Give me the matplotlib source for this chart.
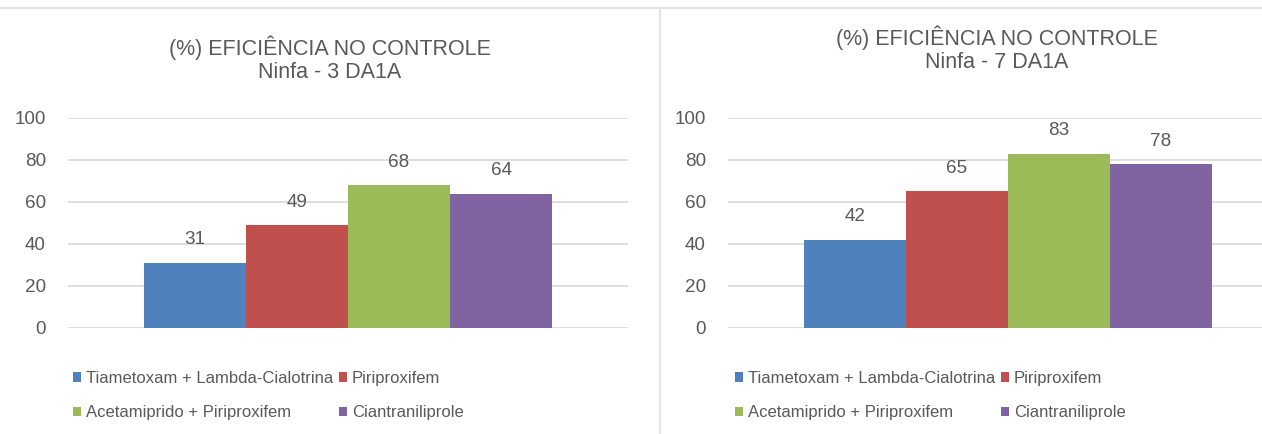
import numpy as np
import matplotlib
matplotlib.use("Agg")
import matplotlib.pyplot as plt
from matplotlib.patches import Patch
from matplotlib.lines import Line2D

# =========================
# Дані
# =========================
produtos = [
    "Tiametoxam + Lambda-Cialotrina",
    "Piriproxifem",
    "Acetamiprido + Piriproxifem",
    "Ciantraniliprole",
]
cores = ["#4F81BD", "#C0504D", "#9BBB59", "#8064A2"]

eficiencia_3dia = [31, 49, 68, 64]
eficiencia_7dia = [42, 65, 83, 78]

titulos = [
    "(%) EFICIÊNCIA NO CONTROLE\nNinfa - 3 DA1A",
    "(%) EFICIÊNCIA NO CONTROLE\nNinfa - 7 DA1A",
]
y_ticks = [0, 20, 40, 60, 80, 100]

TEXT = "#595959"
GRID = "#D9D9D9"

plt.rcParams["font.family"] = ["Liberation Sans", "DejaVu Sans"]

W, H = 1262, 434
fig = plt.figure(figsize=(W / 100, H / 100), dpi=100)


def px_rect(x0, y_top, w, h):
    return [x0 / W, 1 - (y_top + h) / H, w / W, h / H]


bar_w = 102 / 560

painel = [
    (68, eficiencia_3dia, titulos[0], 330, 48, 73),
    (728, eficiencia_7dia, titulos[1], 997, 38, 735),
]

for x0, valores, titulo, tx, ty, lx in painel:
    ax = fig.add_axes(px_rect(x0, 118, 560, 210))
    pos = (np.arange(len(valores)) - 1.5) * bar_w
    bars = ax.bar(pos, valores, width=bar_w, color=cores, zorder=3)
    for b, v in zip(bars, valores):
        ax.annotate(str(v), (b.get_x() + b.get_width() / 2, v),
                    xytext=(0, 16.5), textcoords="offset points",
                    ha="center", va="center", fontsize=13.6, color=TEXT)
    ax.set_xlim(-0.5, 0.5)
    ax.set_ylim(0, 100)
    ax.set_yticks(y_ticks)
    ax.yaxis.grid(True, color=GRID, linewidth=1.2, zorder=0)
    ax.set_xticks([])
    ax.tick_params(axis="y", length=0, pad=16, labelsize=13.6, labelcolor=TEXT)
    for s in ax.spines.values():
        s.set_visible(False)

    # título
    linha1, linha2 = titulo.split("\n")
    fig.text(tx / W, 1 - ty / H, linha1, ha="center", va="center",
             fontsize=15.5, color=TEXT)
    fig.text(tx / W, 1 - (ty + 25) / H, linha2, ha="center", va="center",
             fontsize=15.5, color=TEXT)

    # legenda (linha a linha)
    handles = [Patch(facecolor=c, edgecolor="none") for c in cores]
    order = [0, 2, 1, 3]
    fig.legend([handles[i] for i in order], [produtos[i] for i in order],
               loc="upper left", bbox_to_anchor=(lx / W, 1 - 371 / H),
               ncol=2, frameon=False, fontsize=12, labelcolor=TEXT,
               handlelength=0.5, handleheight=0.5, handletextpad=0.3,
               columnspacing=0.3, labelspacing=1.15,
               borderpad=0, borderaxespad=0)

# linhas de separação dos painéis
fig.add_artist(Line2D([0, 1], [1 - 8 / H, 1 - 8 / H], color="#E4E4E4", linewidth=1.5))
fig.add_artist(Line2D([660 / W, 660 / W], [0, 1 - 8 / H], color="#E4E4E4", linewidth=1.5))

fig.savefig("out.png", dpi=100, facecolor="white")
